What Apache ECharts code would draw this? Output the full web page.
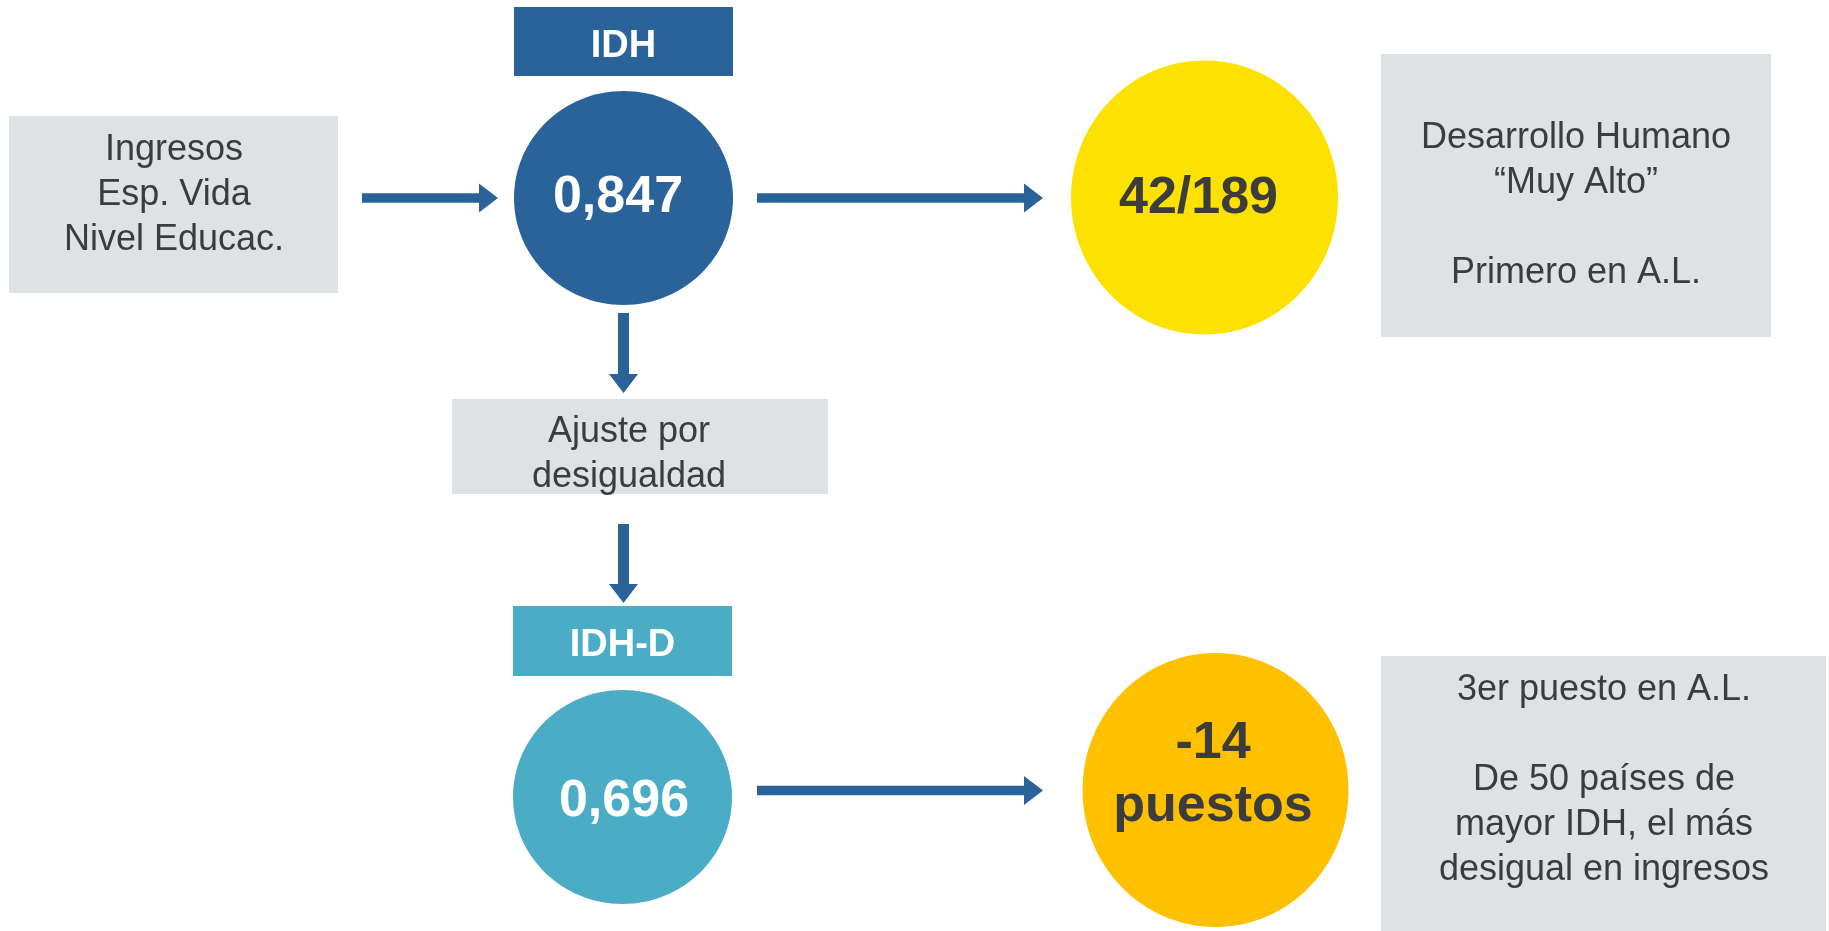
<!DOCTYPE html>
<html lang="es">
<head>
    <title>IDH</title>
    <meta charset="utf-8"/>
    <script src="https://cdn.jsdelivr.net/npm/echarts@6/dist/echarts.min.js"></script>
    <style>
        html, body { margin: 0; padding: 0; background: #fff; }
        #main { width: 1829px; height: 931px; }
    </style>
</head>
<body>
<div id="main"></div>
<script type="text/javascript">
    // texts / values of the diagram
    var inputLabels = ['Ingresos', 'Esp. Vida', 'Nivel Educac.'];
    var adjustLabels = ['Ajuste por', 'desigualdad'];
    var indexNames = ['IDH', 'IDH-D'];
    var indexValues = ['0,847', '0,696'];
    var rankValues = [['42/189'], ['-14', 'puestos']];
    var notesTop = ['Desarrollo Humano', '\u201cMuy Alto\u201d', '', 'Primero en A.L.'];
    var notesBottom = ['3er puesto en A.L.', '', 'De 50 pa\u00edses de', 'mayor IDH, el m\u00e1s', 'desigual en ingresos'];

    var BLUE = '#2a6399', TEAL = '#4bacc6', GRAY = '#dfe2e5', INK = '#3c3c3c';
    var FONT = '"Liberation Sans", Arial, sans-serif';
    var TEXT_SHIFT = 4.5; // canvas "middle" sits a bit above the cap centre

    // layout (in the hidden axis units = pixels)
    var boxes = [
        {rect: [9, 116, 338, 293], fill: GRAY, lines: inputLabels, tx: 174, ty: 190.5, size: 36, lh: 45, color: INK},
        {rect: [514, 7, 733, 76], fill: BLUE, lines: [indexNames[0]], tx: 623.5, ty: 42, size: 38, lh: 40, color: '#fff', bold: true},
        {rect: [1381, 54, 1771, 337], fill: GRAY, lines: notesTop, tx: 1576, ty: 201, size: 36, lh: 45, color: INK},
        {rect: [452, 399, 828, 494], fill: GRAY, lines: adjustLabels, tx: 629, ty: 450, size: 36, lh: 45, color: INK},
        {rect: [513, 606, 732, 676], fill: TEAL, lines: [indexNames[1]], tx: 622.5, ty: 641, size: 38, lh: 40, color: '#fff', bold: true},
        {rect: [1381, 656, 1826, 931], fill: GRAY, lines: notesBottom, tx: 1604, ty: 775.5, size: 36, lh: 45, color: INK}
    ];
    var ellipses = [
        {c: [623.5, 198], r: [109.5, 107], fill: BLUE, lines: [indexValues[0]], tx: 618, ty: 193, color: '#fff'},
        {c: [1204.5, 197.5], r: [133.5, 137], fill: '#fde100', lines: rankValues[0], tx: 1198.5, ty: 194, color: INK},
        {c: [622.5, 797], r: [109.5, 107], fill: TEAL, lines: [indexValues[1]], tx: 624, ty: 797.5, color: '#fff'},
        {c: [1215.5, 790], r: [133, 137], fill: '#ffc000', lines: rankValues[1], tx: 1213, ty: 770.5, color: INK}
    ];
    var arrows = [
        [[362, 198], [498, 198], 9.5],
        [[757, 198], [1043, 198], 9.5],
        [[623.5, 313], [623.5, 393], 11],
        [[623.5, 524], [623.5, 603], 11],
        [[757, 790.5], [1043, 790.5], 9.5]
    ];

    function textEl(x, y, o, size, lh) {
        return {
            type: 'text', x: x, y: y + TEXT_SHIFT, z2: 10,
            style: {
                text: o.lines.join('\n'),
                fill: o.color,
                font: (o.bold ? 'bold ' : '') + size + 'px ' + FONT,
                lineHeight: lh,
                align: 'center',
                verticalAlign: 'middle'
            }
        };
    }

    function renderBox(params, api) {
        var b = boxes[params.dataIndex];
        var p0 = api.coord([b.rect[0], b.rect[1]]);
        var p1 = api.coord([b.rect[2], b.rect[3]]);
        var t = api.coord([b.tx, b.ty]);
        return {
            type: 'group',
            children: [
                {type: 'rect', shape: {x: p0[0], y: p0[1], width: p1[0] - p0[0], height: p1[1] - p0[1]}, style: {fill: b.fill}},
                textEl(t[0], t[1], b, b.size, b.lh)
            ]
        };
    }

    function renderEllipse(params, api) {
        var e = ellipses[params.dataIndex];
        var c = api.coord(e.c);
        var edge = api.coord([e.c[0] + e.r[0], e.c[1] + e.r[1]]);
        var t = api.coord([e.tx, e.ty]);
        return {
            type: 'group',
            children: [
                {type: 'ellipse', shape: {cx: c[0], cy: c[1], rx: edge[0] - c[0], ry: edge[1] - c[1]}, style: {fill: e.fill}},
                textEl(t[0], t[1], {lines: e.lines, color: e.color, bold: true}, 52, 63)
            ]
        };
    }

    function renderArrow(params, api) {
        var a = arrows[params.dataIndex];
        var s = api.coord(a[0]), e = api.coord(a[1]);
        var dx = e[0] - s[0], dy = e[1] - s[1];
        var len = Math.sqrt(dx * dx + dy * dy);
        var ux = dx / len, uy = dy / len, nx = -uy, ny = ux;
        var w = a[2] / 2, hl = 19, hw = 14.5;
        var bx = e[0] - ux * hl, by = e[1] - uy * hl;
        var pts = [
            [s[0] + nx * w, s[1] + ny * w],
            [bx + nx * w, by + ny * w],
            [bx + nx * hw, by + ny * hw],
            [e[0], e[1]],
            [bx - nx * hw, by - ny * hw],
            [bx - nx * w, by - ny * w],
            [s[0] - nx * w, s[1] - ny * w]
        ];
        return {type: 'polygon', shape: {points: pts}, style: {fill: BLUE}};
    }

    var chart = echarts.init(document.getElementById('main'));
    var option = {
        backgroundColor: '#fff',
        animation: false,
        grid: {left: 0, right: 0, top: 0, bottom: 0},
        xAxis: {type: 'value', min: 0, max: 1829, show: false},
        yAxis: {type: 'value', min: 0, max: 931, inverse: true, show: false},
        series: [
            {type: 'custom', clip: false, renderItem: renderBox, data: boxes.map(function (b) { return b.rect.slice(0, 2); })},
            {type: 'custom', clip: false, renderItem: renderArrow, data: arrows.map(function (a) { return a[0]; })},
            {type: 'custom', clip: false, renderItem: renderEllipse, data: ellipses.map(function (e) { return e.c; })}
        ]
    };
    chart.setOption(option);
</script>
</body>
</html>
